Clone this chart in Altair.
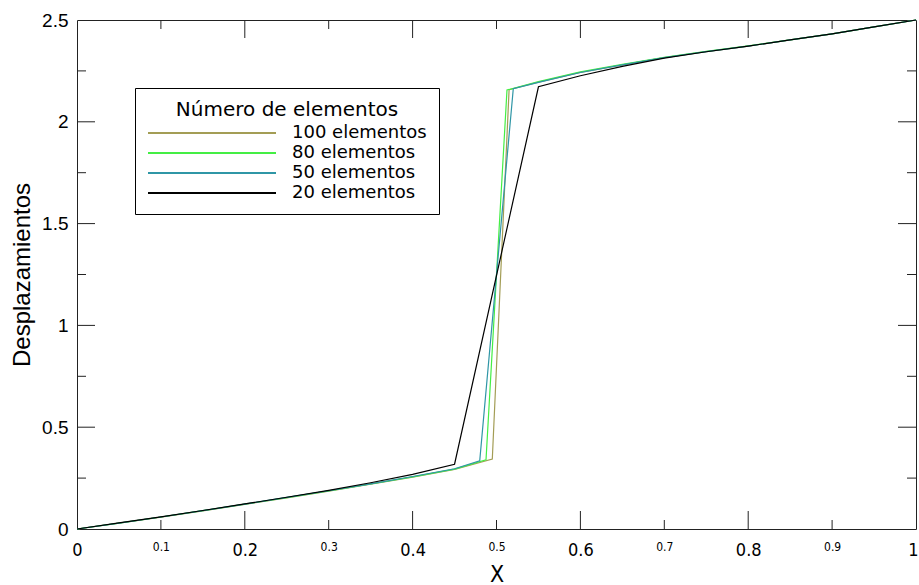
import altair as alt
import pandas as pd

# ---- data ----
series_names = ["100 elementos", "80 elementos", "50 elementos", "20 elementos"]
series_colors = ["#a39d55", "#44ee44", "#2f96a6", "#000000"]

x100 = [0, 0.05, 0.1, 0.15, 0.2, 0.25, 0.3, 0.35, 0.4, 0.45, 0.495, 0.515,
        0.55, 0.6, 0.65, 0.7, 0.75, 0.8, 0.85, 0.9, 0.95, 1.0]
y100 = [0, 0.029, 0.058, 0.089, 0.121, 0.153, 0.186, 0.22, 0.255, 0.293, 0.344, 2.158,
        2.195, 2.243, 2.28, 2.315, 2.345, 2.372, 2.402, 2.432, 2.466, 2.5]

x80 = [0, 0.05, 0.1, 0.15, 0.2, 0.25, 0.3, 0.35, 0.4, 0.45, 0.4875, 0.5125,
       0.55, 0.6, 0.65, 0.7, 0.75, 0.8, 0.85, 0.9, 0.95, 1.0]
y80 = [0, 0.029, 0.059, 0.09, 0.122, 0.154, 0.187, 0.221, 0.256, 0.294, 0.34, 2.156,
       2.197, 2.245, 2.282, 2.316, 2.346, 2.373, 2.402, 2.432, 2.466, 2.5]

x50 = [0, 0.05, 0.1, 0.15, 0.2, 0.25, 0.3, 0.35, 0.4, 0.45, 0.48, 0.52,
       0.55, 0.6, 0.65, 0.7, 0.75, 0.8, 0.85, 0.9, 0.95, 1.0]
y50 = [0, 0.029, 0.059, 0.09, 0.122, 0.155, 0.188, 0.222, 0.258, 0.296, 0.335, 2.163,
       2.194, 2.242, 2.28, 2.315, 2.345, 2.372, 2.402, 2.432, 2.466, 2.5]

x20 = [0, 0.05, 0.1, 0.15, 0.2, 0.25, 0.3, 0.35, 0.4, 0.45,
       0.55, 0.6, 0.65, 0.7, 0.75, 0.8, 0.85, 0.9, 0.95, 1.0]
y20 = [0, 0.03, 0.06, 0.091, 0.123, 0.156, 0.19, 0.227, 0.268, 0.318,
       2.172, 2.226, 2.272, 2.313, 2.344, 2.372, 2.402, 2.432, 2.466, 2.5]

x_tick_labels = [0, 0.1, 0.2, 0.3, 0.4, 0.5, 0.6, 0.7, 0.8, 0.9, 1.0]
x_major = [0.2, 0.4, 0.6, 0.8]
x_minor = [0.1, 0.3, 0.5, 0.7, 0.9]
y_tick_labels = [0, 0.5, 1, 1.5, 2, 2.5]
y_major = [0.5, 1, 1.5, 2]
y_minor = [0.25, 0.75, 1.25, 1.75, 2.25]

# ---- build table ----
rows = []
for name, xs, ys in zip(series_names, [x100, x80, x50, x20], [y100, y80, y50, y20]):
    for xv, yv in zip(xs, ys):
        rows.append({"serie": name, "x": xv, "y": yv})
df = pd.DataFrame(rows)

W, H = 839, 509
MAJ, MIN = 18, 9
FRAME = "#222222"
NARROW = "DejaVu Sans Condensed, Liberation Sans Narrow, Liberation Sans"

xscale = alt.Scale(domain=[0, 1], nice=False, zero=False)
yscale = alt.Scale(domain=[0, 2.5], nice=False, zero=False)

x_axis = alt.Axis(
    values=x_tick_labels, format=".1~f", grid=False, domain=False, ticks=False, tickSize=0,
    labelFont=NARROW, labelColor="black",
    labelFontSize={"condition": {"test": "round(datum.value*10) % 2 == 1", "value": 12}, "value": 18},
    labelAlign={"condition": {"test": "datum.value >= 1", "value": "right"}, "value": "center"},
    labelOffset={"condition": {"test": "datum.value >= 1", "value": 2}, "value": 0},
    labelPadding=12, labelBaseline="top", labelFlush=False, labelOverlap=False,
    title="X", titleFont=NARROW, titleFontSize=23,
    titleFontWeight="normal", titleColor="black", titleX=W / 2, titleY=45,
    titleAlign="center", titleBaseline="middle",
)
y_axis = alt.Axis(
    values=y_tick_labels, format="~g", grid=False, domain=False, ticks=False, tickSize=0,
    labelFont="Liberation Sans", labelFontSize=19, labelColor="black", labelPadding=9,
    labelFlush=False, labelOverlap=False,
    title="Desplazamientos", titleFont="Liberation Sans", titleFontSize=24,
    titleFontWeight="normal", titleColor="black", titleAngle=270,
    titleX=-55, titleY=H / 2, titleAlign="center", titleBaseline="middle",
)

legend = alt.Legend(
    orient="none", legendX=58, legendY=68,
    title="Número de elementos", titleFont="DejaVu Sans", titleFontSize=20,
    titleFontWeight="normal", titleColor="black", titleAnchor="middle", titlePadding=4,
    titleLimit=500, labelLimit=400,
    labelFont="DejaVu Sans", labelFontSize=18, labelColor="black", labelOffset=127,
    symbolType="M-1,0H15", symbolSize=256, symbolStrokeWidth=2, symbolFillColor="transparent",
    strokeColor="black", fillColor="white", padding=12, rowPadding=2,
)

lines = alt.Chart(df).mark_line(strokeWidth=1.2).encode(
    x=alt.X("x:Q", scale=xscale, axis=x_axis),
    y=alt.Y("y:Q", scale=yscale, axis=y_axis),
    color=alt.Color("serie:N", scale=alt.Scale(domain=series_names, range=series_colors),
                    sort=series_names, legend=legend),
    detail="serie:N",
)


def xticks(vals, length):
    d = pd.DataFrame({"v": vals})
    bottom = alt.Chart(d).mark_rule(color=FRAME, strokeWidth=1).encode(
        x=alt.X("v:Q", scale=xscale, axis=x_axis), y=alt.value(H), y2=alt.value(H - length))
    top = alt.Chart(d).mark_rule(color=FRAME, strokeWidth=1).encode(
        x=alt.X("v:Q", scale=xscale, axis=x_axis), y=alt.value(0), y2=alt.value(length))
    return [bottom, top]


def yticks(vals, length):
    d = pd.DataFrame({"v": vals})
    left = alt.Chart(d).mark_rule(color=FRAME, strokeWidth=1).encode(
        y=alt.Y("v:Q", scale=yscale, axis=y_axis), x=alt.value(0), x2=alt.value(length))
    right = alt.Chart(d).mark_rule(color=FRAME, strokeWidth=1).encode(
        y=alt.Y("v:Q", scale=yscale, axis=y_axis), x=alt.value(W), x2=alt.value(W - length))
    return [left, right]


layers = [lines] + xticks(x_major, MAJ) + xticks(x_minor, MIN) + yticks(y_major, MAJ) + yticks(y_minor, MIN)

chart = alt.layer(*layers).properties(
    width=W, height=H,
    autosize=alt.AutoSizeParams(type="none"),
    padding={"left": 77, "top": 20, "right": 3, "bottom": 56},
    background="white",
).configure_view(stroke=FRAME, strokeWidth=1)

chart.save("out.html", embed_options={"renderer": "svg", "actions": False})
